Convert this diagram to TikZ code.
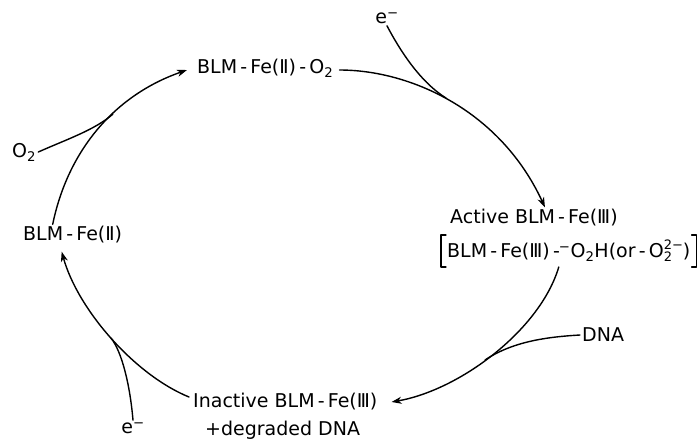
\documentclass[tikz,border=0pt]{standalone}
\usepackage{fontspec}
\setmainfont{DejaVu Sans}
\usetikzlibrary{arrows.meta}
\begin{document}
\begin{tikzpicture}[>={Stealth[length=10pt,width=7pt,inset=3pt]},line join=round,line cap=round,x=1pt,y=-1pt,
    font=\fontsize{19}{22}\selectfont,
    every node/.style={inner sep=2pt},
    arc/.style={->,line width=1.4pt},
    feed/.style={line width=1.4pt}]
    \useasboundingbox (0,0) rectangle (699,440);
    % species of the cycle
    \node[anchor=west] (feO2) at (195,68) {BLM\,-\,Fe(Ⅱ)\,-\,O\textsubscript{2}};
    \node[anchor=west] (act) at (448,218) {Active BLM\,-\,Fe(Ⅲ)};
    \node[anchor=west,inner xsep=6pt,inner ysep=5pt] (actO2) at (441,251)
        {BLM\,-\,Fe(Ⅲ)\,-\kern-1pt\textsuperscript{−}O\textsubscript{2}H(or\,-\,O\rlap{\raisebox{-4pt}{\fontsize{13}{13}\selectfont 2}}\raisebox{8pt}{\fontsize{13}{13}\selectfont 2−})};
    \node[anchor=west] (inact) at (191,402) {Inactive BLM\,-\,Fe(Ⅲ)};
    \node[anchor=west] (degr) at (203,430) {+degraded DNA};
    \node[anchor=west] (feII) at (21,235) {BLM\,-\,Fe(Ⅱ)};
    % side inputs
    \node[anchor=west] (oxy) at (10,152) {O\textsubscript{2}};
    \node (etop) at (387,18) {e\textsuperscript{−}};
    \node (ebot) at (133,428) {e\textsuperscript{−}};
    \node[anchor=west] (dna) at (580,335) {DNA};
    % brackets
    \draw[line width=1.1pt] ([xshift=5pt]actO2.north west)--(actO2.north west)--(actO2.south west)--([xshift=5pt]actO2.south west);
    \draw[line width=1.1pt] ([xshift=-5pt]actO2.north east)--(actO2.north east)--(actO2.south east)--([xshift=-5pt]actO2.south east);
    % cycle
    \draw[arc] ([xshift=-20pt]feII.north)
        .. controls (68,150) and (115,95) .. ([xshift=-8pt,yshift=-2pt]feO2.west);
    \draw[arc] ([xshift=4pt,yshift=-2pt]feO2.east)
        .. controls (410,70) and (500,110) .. ([xshift=11pt]act.north);
    \draw[arc] ([xshift=-10pt]actO2.south)
        .. controls (540,330) and (460,390) .. ([xshift=12pt]inact.east);
    \draw[arc] ([xshift=-2pt,yshift=5pt]inact.west)
        .. controls (135,375) and (78,310) .. ([xshift=-11pt,yshift=-6pt]feII.south);
    % inputs joining the cycle
    \coordinate (jO2) at (113,114);
    \coordinate (jetop) at (446,98);
    \coordinate (jdna) at (485,360);
    \coordinate (jebot) at (111,338);
    \draw[feed] (oxy.east) .. controls (65,140) and (95,130) .. (jO2);
    \draw[feed] (etop.south) .. controls (405,60) and (425,85) .. (jetop);
    \draw[feed] (dna.west) .. controls (545,337) and (512,342) .. (jdna);
    \draw[feed] (ebot.north) .. controls (130,385) and (122,352) .. (jebot);
\end{tikzpicture}
\end{document}
